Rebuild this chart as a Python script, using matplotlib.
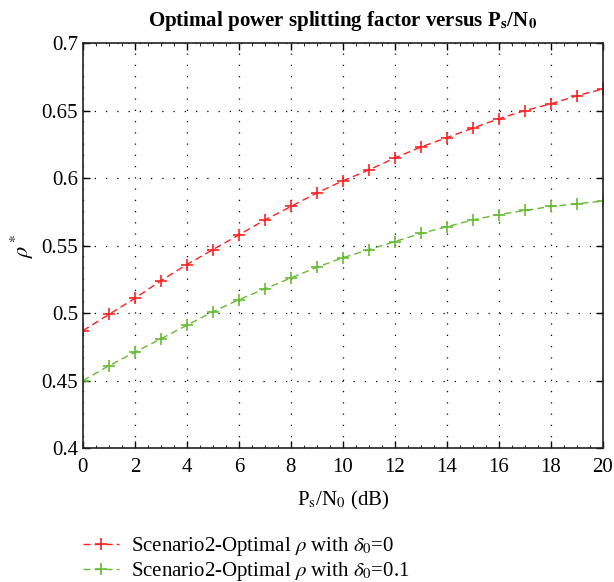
import matplotlib
matplotlib.use("Agg")
import matplotlib.pyplot as plt
from matplotlib.ticker import MultipleLocator

snr_db = list(range(0, 21))
rho_delta0 = [0.487, 0.499, 0.511, 0.524, 0.536, 0.547, 0.558, 0.569, 0.579, 0.589, 0.598,
              0.606, 0.615, 0.623, 0.630, 0.637, 0.644, 0.650, 0.655, 0.661, 0.666]
rho_delta01 = [0.450, 0.461, 0.471, 0.481, 0.491, 0.501, 0.510, 0.518, 0.526, 0.534, 0.541,
               0.547, 0.553, 0.559, 0.564, 0.569, 0.573, 0.576, 0.579, 0.581, 0.583]
labels = [r"Scenario2-Optimal $\rho$ with $\delta_0$=0",
          r"Scenario2-Optimal $\rho$ with $\delta_0$=0.1"]

plt.rcParams['font.family'] = ['Liberation Serif', 'DejaVu Serif']
plt.rcParams['mathtext.fontset'] = 'stix'

fig = plt.figure(figsize=(6.14, 5.82), dpi=100)
ax = fig.add_axes([0.135, 0.230, 0.847, 0.696])

ax.plot(snr_db, rho_delta0, color='#ff2020', linestyle=(0, (5, 3)), linewidth=1.0,
        marker='+', markersize=9, markeredgewidth=1.2, label=labels[0])
ax.plot(snr_db, rho_delta01, color='#66bb33', linestyle=(0, (5, 3)), linewidth=1.0,
        marker='+', markersize=9, markeredgewidth=1.2, label=labels[1])

ax.set_xlim(0, 20)
ax.set_ylim(0.4, 0.7)
ax.set_xticks(range(0, 21, 2))
ax.set_yticks([0.4, 0.45, 0.5, 0.55, 0.6, 0.65, 0.7])
ax.set_yticklabels(['0.4', '0.45', '0.5', '0.55', '0.6', '0.65', '0.7'])
ax.xaxis.set_minor_locator(MultipleLocator(0.5))
ax.tick_params(axis='both', which='both', direction='in', top=True, right=True, labelsize=15)
ax.tick_params(which='major', length=5, width=1)
ax.tick_params(axis='x', which='major', pad=7)
ax.tick_params(which='minor', length=2.5, width=0.6)
ax.grid(True, which='major', color='black', linestyle=(0, (1, 8)), linewidth=0.9)
for s in ax.spines.values():
    s.set_linewidth(1.2)
    s.set_color('#222222')

ax.set_xlabel(r"P$_{\mathrm{s}}$/N$_0$ (dB)", fontsize=15, labelpad=9)
ax.set_ylabel(r"$\rho^*$", fontsize=16)
ax.set_title(r"Optimal power splitting factor versus P$_{\mathbf{s}}$/N$_\mathbf{0}$",
             fontsize=15, fontweight='bold', pad=12)

fig.legend(loc='upper left', bbox_to_anchor=(0.122, 0.095), frameon=False, fontsize=15,
           handlelength=1.7, handletextpad=0.6, labelspacing=0.1, borderaxespad=0)

fig.savefig("out.png", dpi=100)
